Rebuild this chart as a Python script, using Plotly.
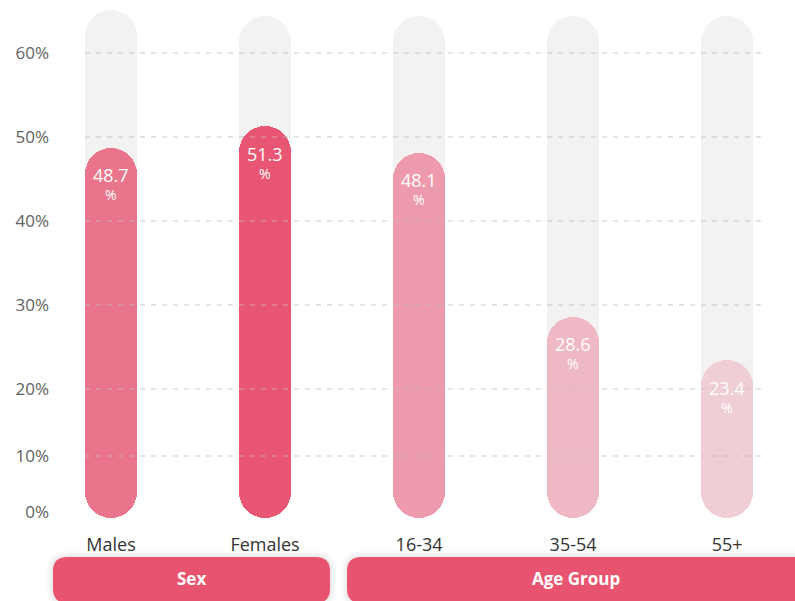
import plotly.graph_objects as go

categories = ["Males", "Females", "16-34", "35-54", "55+"]
values = [48.7, 51.3, 48.1, 28.6, 23.4]
bar_colors = ["#E9748B", "#E85674", "#EE9AAD", "#EEB9C4", "#F0CED6"]
track_tops = [65.1, 64.4, 64.4, 64.4, 64.4]
pill_bottom = 4.64
tick_vals = [5.36, 12.02, 20, 30, 40, 50, 60]
tick_text = ["0%", "10%", "20%", "30%", "40%", "50%", "60%"]
grid_vals = [12.02, 20, 30, 40, 50, 60]
groups = ["Sex", "Age Group"]

FONT = "Open Sans"
W, H = 795, 601
L, R, T, B = 85, 34, 5, 76
PW, PH = W - L - R, H - T - B
Y0, Y1 = 3.81, 65.71
BW = 0.338
RAD = 26

def px_x(p):
    return (p - L) / PW

def px_y(p):
    return (H - B - p) / PH

fig = go.Figure()
n = len(categories)

fig.add_trace(go.Bar(x=categories, y=[t - pill_bottom for t in track_tops], base=[pill_bottom] * n,
                     width=BW, marker=dict(color="#F2F2F2", cornerradius=RAD, line_width=0),
                     hoverinfo="skip", showlegend=False))
fig.add_trace(go.Bar(x=categories, y=[v - pill_bottom for v in values], base=[pill_bottom] * n,
                     width=BW, marker=dict(color=bar_colors, cornerradius=RAD, line_width=0),
                     hoverinfo="skip", showlegend=False))

annotations = []
for c, v in zip(categories, values):
    annotations.append(dict(x=c, y=v, xref="x", yref="y", yanchor="middle", xanchor="center",
                            yshift=-36, showarrow=False, borderpad=0,
                            text=f"<span style='font-size:18px'>{v}</span><br>%",
                            font=dict(family=FONT, size=14, color="white")))

shapes = []
for g in grid_vals:
    shapes.append(dict(type="line", xref="paper", yref="y", x0=0, x1=1, y0=g, y1=g,
                       layer="above", line=dict(color="rgba(190,190,190,0.4)", width=2, dash="5px,6px")))

def pill(x0, x1, y0, y1, r, color, opacity=1.0):
    a, b = px_x(x0), px_x(x1)
    top, bot = px_y(y0), px_y(y1)
    rx, ry = r / PW, r / PH
    path = (f"M {a+rx},{top} L {b-rx},{top} Q {b},{top} {b},{top-ry} "
            f"L {b},{bot+ry} Q {b},{bot} {b-rx},{bot} L {a+rx},{bot} "
            f"Q {a},{bot} {a},{bot+ry} L {a},{top-ry} Q {a},{top} {a+rx},{top} Z")
    return dict(type="path", xref="paper", yref="paper", path=path, fillcolor=color,
                line=dict(width=0), layer="above", opacity=opacity)

for (x0, x1) in [(53, 330), (347, 812)]:
    for k, op in [(6, 0.04), (4, 0.05), (2, 0.06)]:
        shapes.append(pill(x0 - k, x1 + k, 557 - k, 603 + k, 14 + k, "#888888", op))
shapes.append(pill(53, 330, 557, 603, 14, "#E8546F"))
shapes.append(pill(347, 812, 557, 603, 14, "#E8546F"))

annotations.append(dict(x=px_x(191), y=px_y(578), xref="paper", yref="paper", text="<b>Sex</b>",
                        xanchor="center", yanchor="middle",
                        showarrow=False, font=dict(family=FONT, size=17, color="white")))
annotations.append(dict(x=px_x(576), y=px_y(578), xref="paper", yref="paper", text="<b>Age Group</b>",
                        xanchor="center", yanchor="middle",
                        showarrow=False, font=dict(family=FONT, size=17, color="white")))

fig.update_layout(
    width=W, height=H, margin=dict(l=L, r=R, t=T, b=B, autoexpand=False),
    paper_bgcolor="white", plot_bgcolor="white",
    barmode="overlay", bargap=0,
    font=dict(family=FONT),
    shapes=shapes, annotations=annotations,
    xaxis=dict(range=[-0.169, 4.22], showgrid=False, zeroline=False, showline=False,
               ticks="", tickfont=dict(family=FONT, size=18, color="#333333"),
               ticklabelstandoff=7, fixedrange=True, automargin=False),
    yaxis=dict(range=[Y0, Y1], tickvals=tick_vals, ticktext=tick_text, showgrid=False,
               zeroline=False, showline=False, ticks="",
               tickfont=dict(family=FONT, size=17, color="#5f5f5f"),
               ticklabelstandoff=35, fixedrange=True, automargin=False),
)

fig.write_html("out.html", config={"displayModeBar": False},
               post_script="document.body.style.margin='0';document.body.style.padding='0';")
